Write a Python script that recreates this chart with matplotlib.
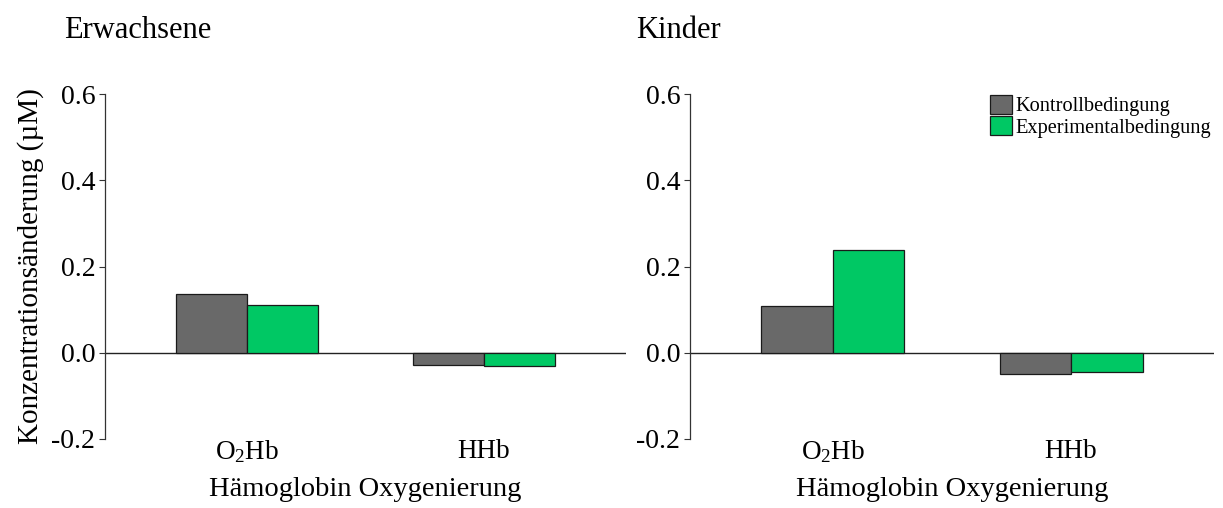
import matplotlib
matplotlib.use("Agg")
import matplotlib.pyplot as plt
import numpy as np

plt.rcParams["font.family"] = ["Liberation Serif", "DejaVu Serif"]
plt.rcParams["mathtext.fontset"] = "custom"
plt.rcParams["mathtext.rm"] = "Liberation Serif"
plt.rcParams["mathtext.it"] = "Liberation Serif:italic"
plt.rcParams["mathtext.default"] = "regular"

# Data
categories = [r"O$_2$Hb", "HHb"]
conditions = ["Kontrollbedingung", "Experimentalbedingung"]
erwachsene_kontroll = [0.137, -0.029]
erwachsene_experimental = [0.110, -0.031]
kinder_kontroll = [0.108, -0.050]
kinder_experimental = [0.238, -0.046]

panel_titles = ["Erwachsene", "Kinder"]
y_ticks = [-0.2, 0.0, 0.2, 0.4, 0.6]
y_tick_labels = ["-0.2", "0.0", "0.2", "0.4", "0.6"]
x_label = "Hämoglobin Oxygenierung"
y_label = "Konzentrationsänderung (µM)"

colors = ["#696969", "#00C864"]

W, H = 1223, 508
fig = plt.figure(figsize=(W / 100, H / 100), dpi=100)


def px_axes(x0, x1, ytop, ybot):
    return fig.add_axes([x0 / W, 1 - ybot / H, (x1 - x0) / W, (ybot - ytop) / H])


ax_l = px_axes(105, 626, 94.3, 438.7)
ax_r = px_axes(690, 1214, 94.3, 438.7)

bar_w = 0.3
x = np.arange(1, len(categories) + 1)

panels = [
    (ax_l, erwachsene_kontroll, erwachsene_experimental),
    (ax_r, kinder_kontroll, kinder_experimental),
]

for ax, kontroll, experimental in panels:
    ax.bar(x - bar_w / 2, kontroll, width=bar_w, color=colors[0],
           edgecolor="#1a1a1a", linewidth=0.9, zorder=3)
    ax.bar(x + bar_w / 2, experimental, width=bar_w, color=colors[1],
           edgecolor="#1a1a1a", linewidth=0.9, zorder=3)
    ax.axhline(0, color="#222222", linewidth=1.0, zorder=2)
    ax.set_xlim(0.4, 2.6)
    ax.set_ylim(-0.2, 0.6)
    ax.set_yticks(y_ticks)
    ax.set_yticklabels(y_tick_labels)
    ax.set_xticks(x)
    ax.set_xticklabels(categories)
    for side in ["top", "right", "bottom"]:
        ax.spines[side].set_visible(False)
    ax.spines["left"].set_linewidth(0.9)
    ax.spines["left"].set_color("#333333")
    ax.tick_params(axis="y", length=4, width=0.8, pad=3, labelsize=20,
                   color="#333333")
    ax.tick_params(axis="x", length=0, pad=0, labelsize=19.5)
    ax.set_xlabel(x_label, fontsize=20.5, labelpad=8)
    ax.patch.set_visible(False)

ax_l.set_ylabel(y_label, fontsize=21, labelpad=5)

fig.text(64 / W, 1 - 38.5 / H, panel_titles[0], fontsize=22, va="baseline", ha="left")
fig.text(636 / W, 1 - 38.5 / H, panel_titles[1], fontsize=22, va="baseline", ha="left")

handles = [plt.Rectangle((0, 0), 1, 1, facecolor=c, edgecolor="#1a1a1a", linewidth=0.9)
           for c in colors]
leg = ax_r.legend(handles, conditions, loc="upper left",
                  bbox_to_anchor=(990 / W, 1 - 94.5 / H), bbox_transform=fig.transFigure,
                  frameon=False, fontsize=14.7, handlelength=1.07, handleheight=1.07,
                  handletextpad=0.2, labelspacing=0.0, borderpad=0, borderaxespad=0)

fig.savefig("out.png", dpi=100)
